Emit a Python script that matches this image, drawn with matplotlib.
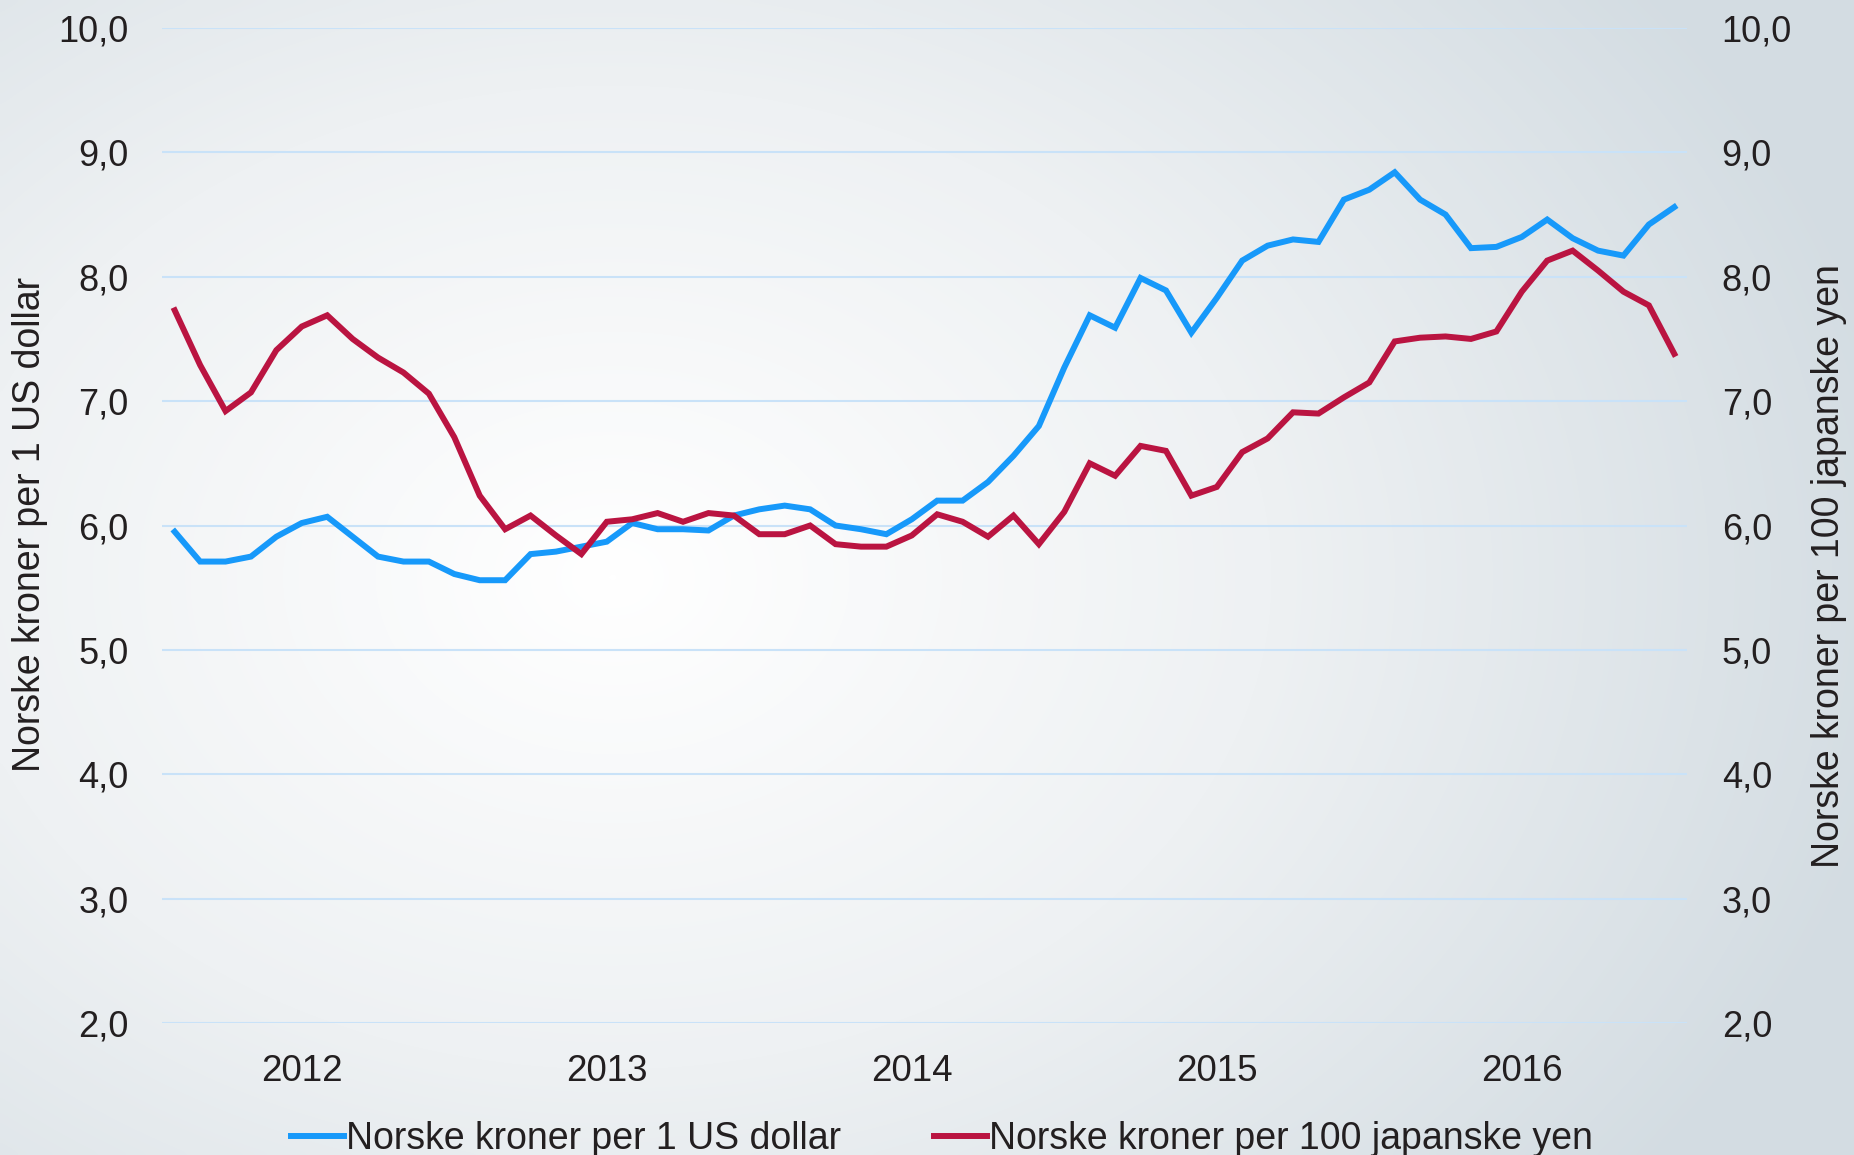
import matplotlib
import numpy as np
import pandas as pd

matplotlib.use("Agg")
import matplotlib.pyplot as plt  # noqa: E402
from matplotlib.colors import LinearSegmentedColormap  # noqa: E402
from matplotlib.ticker import FuncFormatter  # noqa: E402

# månedlige observasjoner aug 2011 - jul 2016
MONTHS = pd.date_range("2011-08-01", periods=60, freq="MS")
USD = [5.95, 5.71, 5.71, 5.75, 5.91, 6.02, 6.07, 5.91, 5.75, 5.71,
       5.71, 5.61, 5.56, 5.56, 5.77, 5.79, 5.83, 5.87, 6.02, 5.97,
       5.97, 5.96, 6.08, 6.13, 6.16, 6.13, 6.00, 5.97, 5.93, 6.05,
       6.20, 6.20, 6.35, 6.56, 6.80, 7.27, 7.69, 7.59, 7.99, 7.89,
       7.55, 7.83, 8.13, 8.25, 8.30, 8.28, 8.62, 8.70, 8.84, 8.62,
       8.50, 8.23, 8.24, 8.32, 8.46, 8.31, 8.21, 8.17, 8.42, 8.56]
JPY = [7.73, 7.29, 6.92, 7.07, 7.41, 7.60, 7.69, 7.50, 7.35, 7.23,
       7.06, 6.71, 6.24, 5.97, 6.08, 5.92, 5.77, 6.03, 6.05, 6.10,
       6.03, 6.10, 6.08, 5.93, 5.93, 6.00, 5.85, 5.83, 5.83, 5.92,
       6.09, 6.03, 5.91, 6.08, 5.85, 6.11, 6.50, 6.40, 6.64, 6.60,
       6.24, 6.31, 6.59, 6.70, 6.91, 6.90, 7.03, 7.15, 7.48, 7.51,
       7.52, 7.50, 7.56, 7.88, 8.13, 8.21, 8.05, 7.88, 7.77, 7.38]
USD_LABEL = "Norske kroner per 1 US dollar"
JPY_LABEL = "Norske kroner per 100 japanske yen"

BLUE = "#1799FA"
RED = "#BA1441"
GRID = "#C9E2F8"
TEXT = "#231F20"
FS = 26
FS_LAB = 27

plt.rcParams["font.family"] = ["Liberation Sans", "DejaVu Sans"]

W, H, DPI = 18.54, 11.55, 100
fig = plt.figure(figsize=(W, H), dpi=DPI)

# bakgrunn: lys radial gradient, hvit mot venstre midt, blågrå mot kantene
bg = fig.add_axes([0, 0, 1, 1], zorder=-10)
gx, gy = np.meshgrid(np.linspace(0, 1, 400), np.linspace(0, 1, 250))
d = np.sqrt(((gx - 0.33) / 0.75) ** 2 + ((gy - 0.5) / 0.9) ** 2)
cmap = LinearSegmentedColormap.from_list("bg", ["#FFFFFF", "#EEF1F3", "#D3DCE2"])
bg.imshow(np.clip(d / 0.95, 0, 1), cmap=cmap, aspect="auto", extent=[0, 1, 0, 1],
          vmin=0, vmax=1, interpolation="bicubic")
bg.set_axis_off()

ax = fig.add_axes([162 / 1854, 1 - 1023 / 1155, (1687 - 162) / 1854, (1023 - 28) / 1155])
ax.patch.set_alpha(0)
ax2 = ax.twinx()
ax2.patch.set_alpha(0)

x = np.arange(len(MONTHS))
l1, = ax.plot(x, USD, color=BLUE, lw=4.3, solid_joinstyle="miter", label=USD_LABEL)
l2, = ax2.plot(x, JPY, color=RED, lw=4.3, solid_joinstyle="miter", label=JPY_LABEL)

fmt = FuncFormatter(lambda v, _: f"{v:.1f}".replace(".", ","))
for a in (ax, ax2):
    a.set_ylim(2, 10)
    a.set_yticks(np.arange(2, 11, 1))
    a.yaxis.set_major_formatter(fmt)
    a.set_xlim(-0.5, len(MONTHS) - 0.5)
    for s in a.spines.values():
        s.set_visible(False)
    a.tick_params(axis="both", length=0, labelsize=FS, colors=TEXT)
ax.tick_params(axis="y", pad=24)
ax2.tick_params(axis="y", pad=25)
ax.grid(axis="y", color=GRID, lw=1.5)
ax.set_axisbelow(True)

jan = [i for i, m in enumerate(MONTHS) if m.month == 1]
ax.set_xticks(jan)
ax.set_xticklabels([str(MONTHS[i].year) for i in jan], fontsize=26.5)
ax.tick_params(axis="x", pad=22)

fig.text(30 / 1854, 1 - 525 / 1155, USD_LABEL, rotation=90, ha="center", va="center",
         fontsize=FS_LAB, color=TEXT)
fig.text(1829 / 1854, 1 - 566 / 1155, JPY_LABEL, rotation=90, ha="center", va="center",
         fontsize=FS_LAB, color=TEXT)

fig.legend([l1, l2], [USD_LABEL, JPY_LABEL], loc="center", bbox_to_anchor=(0.508, 1 - 1139 / 1155),
           ncol=2, frameon=False, fontsize=FS_LAB, handlelength=1.4, handletextpad=0.05,
           columnspacing=2.5, labelcolor=TEXT, borderaxespad=0)

fig.savefig("out.png", dpi=DPI)
